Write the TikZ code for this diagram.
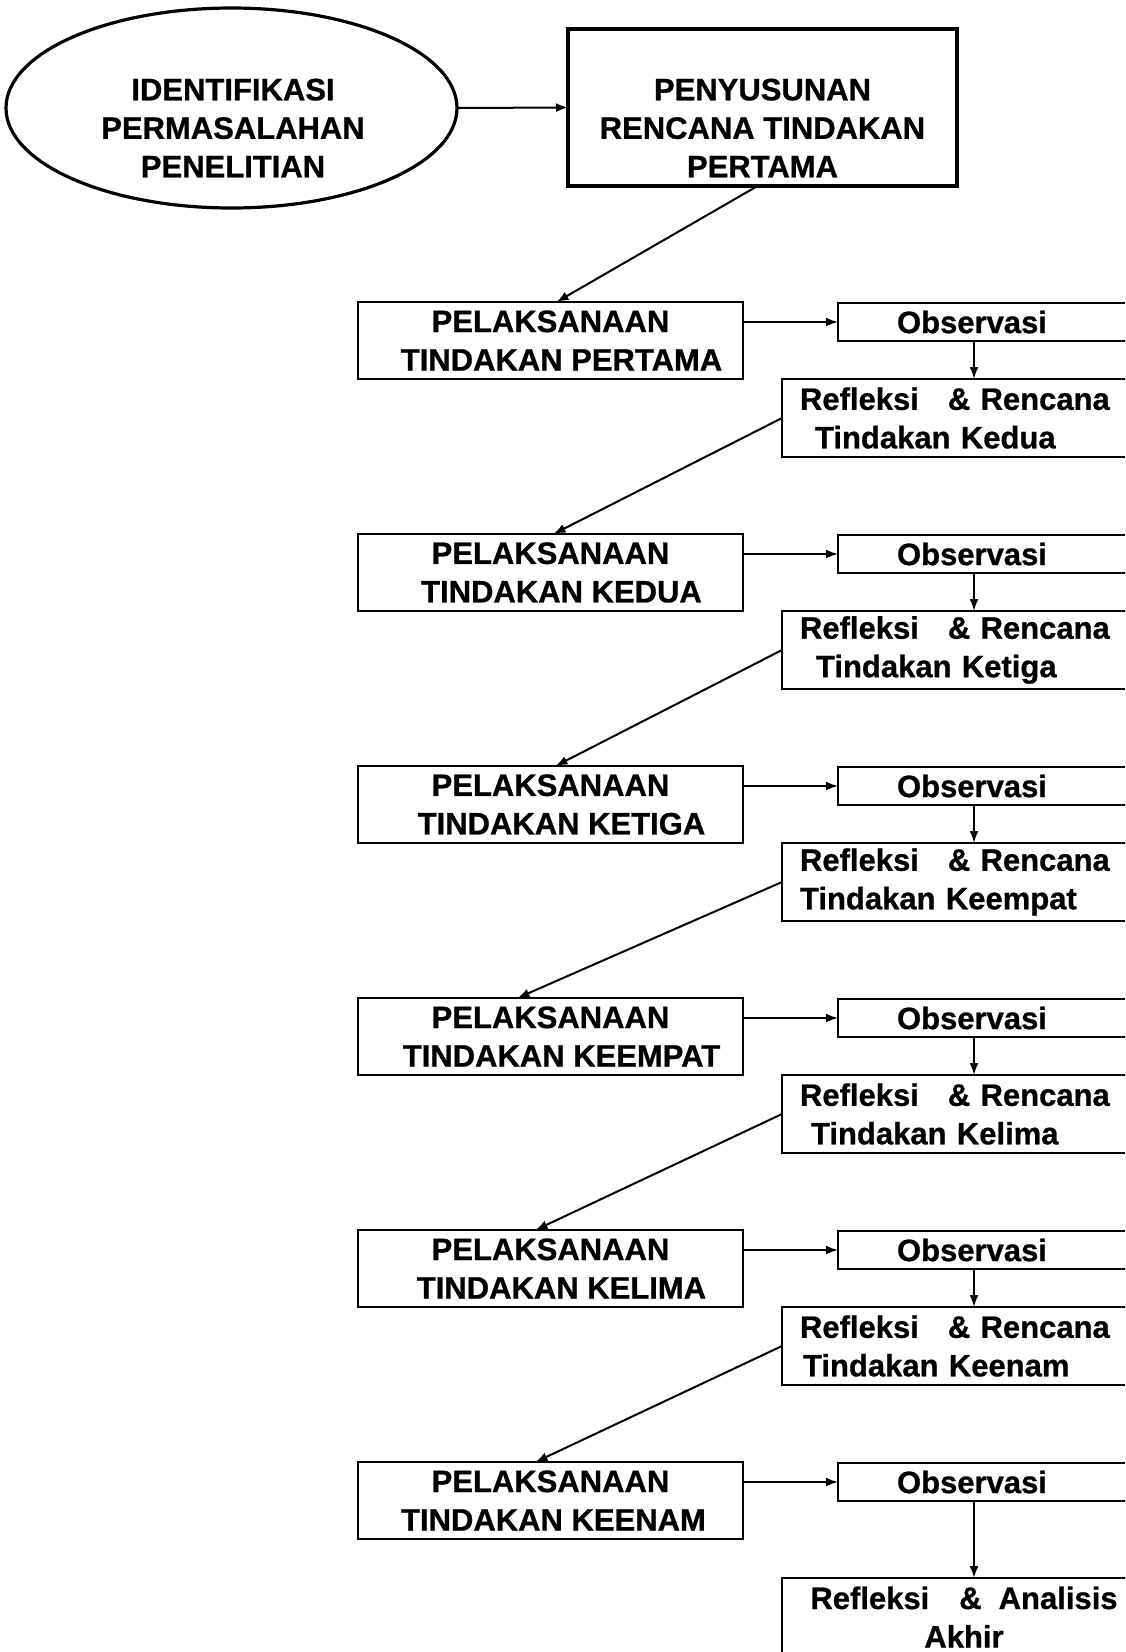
\documentclass[tikz,border=0pt]{standalone}
\usepackage{fontspec}
\setmainfont{Liberation Sans}[BoldFeatures={FakeBold=0.8}]
\usetikzlibrary{arrows.meta,shapes.geometric}
\begin{document}
\begin{tikzpicture}[x=1pt,y=-1pt,
  every node/.style={font=\fontsize{31}{38.5}\selectfont\bfseries},
  box/.style={draw, line width=2pt, rectangle, inner sep=0pt, outer sep=0pt},
  thickbox/.style={draw, line width=3.5pt, rectangle, inner sep=0pt, outer sep=0pt},
  ellbox/.style={draw, ellipse, line width=3.2pt, minimum width=451pt, minimum height=200pt, inner sep=0pt, outer sep=0pt},
  pelbox/.style={box, anchor=north west, minimum width=385pt, minimum height=77pt, align=center},
  obsbox/.style={box, anchor=north west, minimum height=38pt, text width=232pt, inner xsep=59pt, align=left},
  refbox/.style={box, anchor=north west, minimum height=78pt, text width=364pt, inner xsep=18pt, align=left},
  finbox/.style={box, anchor=north west, minimum width=400pt, minimum height=120pt},
  txt/.style={align=center, inner sep=0pt},
  arr/.style={-{Latex[length=12pt,width=9pt]}, line width=2pt}
]
\useasboundingbox (0,0) rectangle (1125,1652);
\clip (0,0) rectangle (1125,1652);
\fill[white] (0,0) rectangle (1125,1652);

\coordinate (vx) at (974,0);

% top
\node[ellbox] (ell) at (231.5,108) {};
\node[txt] (elltxt) at (233,128) {IDENTIFIKASI\\PERMASALAHAN\\PENELITIAN};
\node[thickbox, anchor=north west, minimum width=389pt, minimum height=157pt] (pbox) at (568,29) {};
\node[txt] (ptxt) at (762.5,128) {PENYUSUNAN\\RENCANA TINDAKAN\\PERTAMA};

% rows
\node[pelbox] (pel1) at (358,302) {PELAKSANAAN\\\hspace*{22pt}TINDAKAN PERTAMA};
\node[obsbox] (obs1) at (838,303) {Observasi};
\node[refbox] (ref1) at (782,379) {Refleksi\hspace{29pt}\& Rencana\\\hspace*{15pt}Tindakan Kedua};

\node[pelbox] (pel2) at (358,534) {PELAKSANAAN\\\hspace*{22pt}TINDAKAN KEDUA};
\node[obsbox] (obs2) at (838,535) {Observasi};
\node[refbox] (ref2) at (782,611) {Refleksi\hspace{29pt}\& Rencana\\\hspace*{16pt}Tindakan Ketiga};

\node[pelbox] (pel3) at (358,766) {PELAKSANAAN\\\hspace*{22pt}TINDAKAN KETIGA};
\node[obsbox] (obs3) at (838,767) {Observasi};
\node[refbox] (ref3) at (782,843) {Refleksi\hspace{29pt}\& Rencana\\Tindakan Keempat};

\node[pelbox] (pel4) at (358,998) {PELAKSANAAN\\\hspace*{22pt}TINDAKAN KEEMPAT};
\node[obsbox] (obs4) at (838,999) {Observasi};
\node[refbox] (ref4) at (782,1075) {Refleksi\hspace{29pt}\& Rencana\\\hspace*{11pt}Tindakan Kelima};

\node[pelbox] (pel5) at (358,1230) {PELAKSANAAN\\\hspace*{22pt}TINDAKAN KELIMA};
\node[obsbox] (obs5) at (838,1231) {Observasi};
\node[refbox] (ref5) at (782,1307) {Refleksi\hspace{29pt}\& Rencana\\\hspace*{3pt}Tindakan Keenam};

\node[pelbox] (pel6) at (358,1462) {PELAKSANAAN\\\hspace*{6pt}TINDAKAN KEENAM};
\node[obsbox] (obs6) at (838,1463) {Observasi};

\node[finbox] (fin) at (782,1578) {};
\node[txt] (fintxt) at (964,1617) {\makebox[308pt]{Refleksi\hspace{30pt}\&\hspace{17pt}Analisis}\\Akhir};

% connectors
\draw[arr] (ell.east) -- (pbox.west);
\draw[arr] ([xshift=-5pt]pbox.south) -- ([xshift=6pt]pel1.north);

\foreach \i in {1,...,6}{
  \draw[arr] (pel\i.east |- obs\i.west) -- (obs\i.west);
}
\foreach \i in {1,...,5}{
  \draw[arr] (obs\i.south -| vx) -- (ref\i.north -| vx);
}
\draw[arr] (obs6.south -| vx) -- (fin.north -| vx);

\draw[arr] (ref1.west) -- ([xshift=3pt]pel2.north);
\draw[arr] (ref2.west) -- ([xshift=5pt]pel3.north);
\draw[arr] (ref3.west) -- ([xshift=-33pt]pel4.north);
\draw[arr] (ref4.west) -- ([xshift=-15pt]pel5.north);
\draw[arr] (ref5.west) -- ([xshift=-15pt]pel6.north);
\end{tikzpicture}
\end{document}
